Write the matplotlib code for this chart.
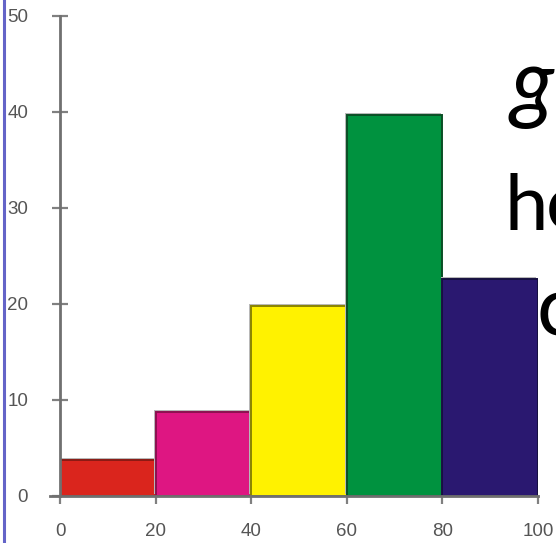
import matplotlib
matplotlib.use("Agg")
import matplotlib.pyplot as plt
import matplotlib.patheffects as pe
from matplotlib.lines import Line2D

# class intervals and frequencies
bin_edges = [0, 20, 40, 60, 80, 100]
frequencies = [3.7, 8.7, 19.8, 39.7, 22.6]
bar_colors = ["#da251d", "#de1682", "#fff200", "#00923f", "#2a1870"]
edge_colors = ["#8a1a14", "#8c1050", "#8a8400", "#0a4f25", "#161040"]

x_ticks = [0, 20, 40, 60, 80, 100]
y_ticks = [0, 10, 20, 30, 40, 50]

fig = plt.figure(figsize=(5.56, 5.43), dpi=100)
ax = fig.add_axes([60 / 556, 1 - 495.7 / 543, 478 / 556, 480 / 543])
ax.patch.set_visible(False)

lefts = bin_edges[:-1]
widths = [b - a for a, b in zip(bin_edges[:-1], bin_edges[1:])]
bars = ax.bar(lefts, frequencies, width=widths, align="edge",
              color=bar_colors, edgecolor=edge_colors, linewidth=1.4, zorder=3)
for b in bars:
    b.set_path_effects([pe.SimplePatchShadow(offset=(-1.3, 1.3),
                                             shadow_rgbFace="#b8b8b8", alpha=1.0),
                        pe.Normal()])

ax.set_xlim(0, 100)
ax.set_ylim(0, 50)
ax.set_xticks(x_ticks)
ax.set_yticks(y_ticks)

for side in ["top", "right"]:
    ax.spines[side].set_visible(False)
for side in ["left", "bottom"]:
    ax.spines[side].set_color("#707070")
    ax.spines[side].set_linewidth(2)
    ax.spines[side].set_zorder(4)
ax.spines["bottom"].set_bounds(-2, 100)

label_font = {"family": "Liberation Sans", "size": 13.5}
ax.tick_params(axis="y", direction="inout", length=12, width=1.6,
               color="#808080", pad=17, labelcolor="#555555")
ax.tick_params(axis="x", direction="out", length=6, width=1.6,
               color="#808080", pad=14, labelcolor="#555555")
for lab in ax.get_xticklabels() + ax.get_yticklabels():
    lab.set_fontfamily(label_font["family"])
    lab.set_fontsize(label_font["size"])

# slide text sitting behind the chart
slide_kw = dict(color="black", family="Lato", zorder=-1,
                va="baseline", ha="left")
fig.text(510 / 556, 1 - 112 / 543, "g", style="italic", fontsize=64, **slide_kw)
fig.text(504 / 556, 1 - 230 / 543, "h", fontsize=56, **slide_kw)
fig.text(546 / 556, 1 - 230 / 543, "o", fontsize=56, **slide_kw)
fig.text(537 / 556, 1 - 336 / 543, "c", fontsize=60, **slide_kw)

# blue frame line at the left edge
fig.add_artist(Line2D([3.5 / 556, 3.5 / 556], [0, 1], transform=fig.transFigure,
                      color="#6464c8", linewidth=2.2))

fig.savefig("out.png", dpi=100)
